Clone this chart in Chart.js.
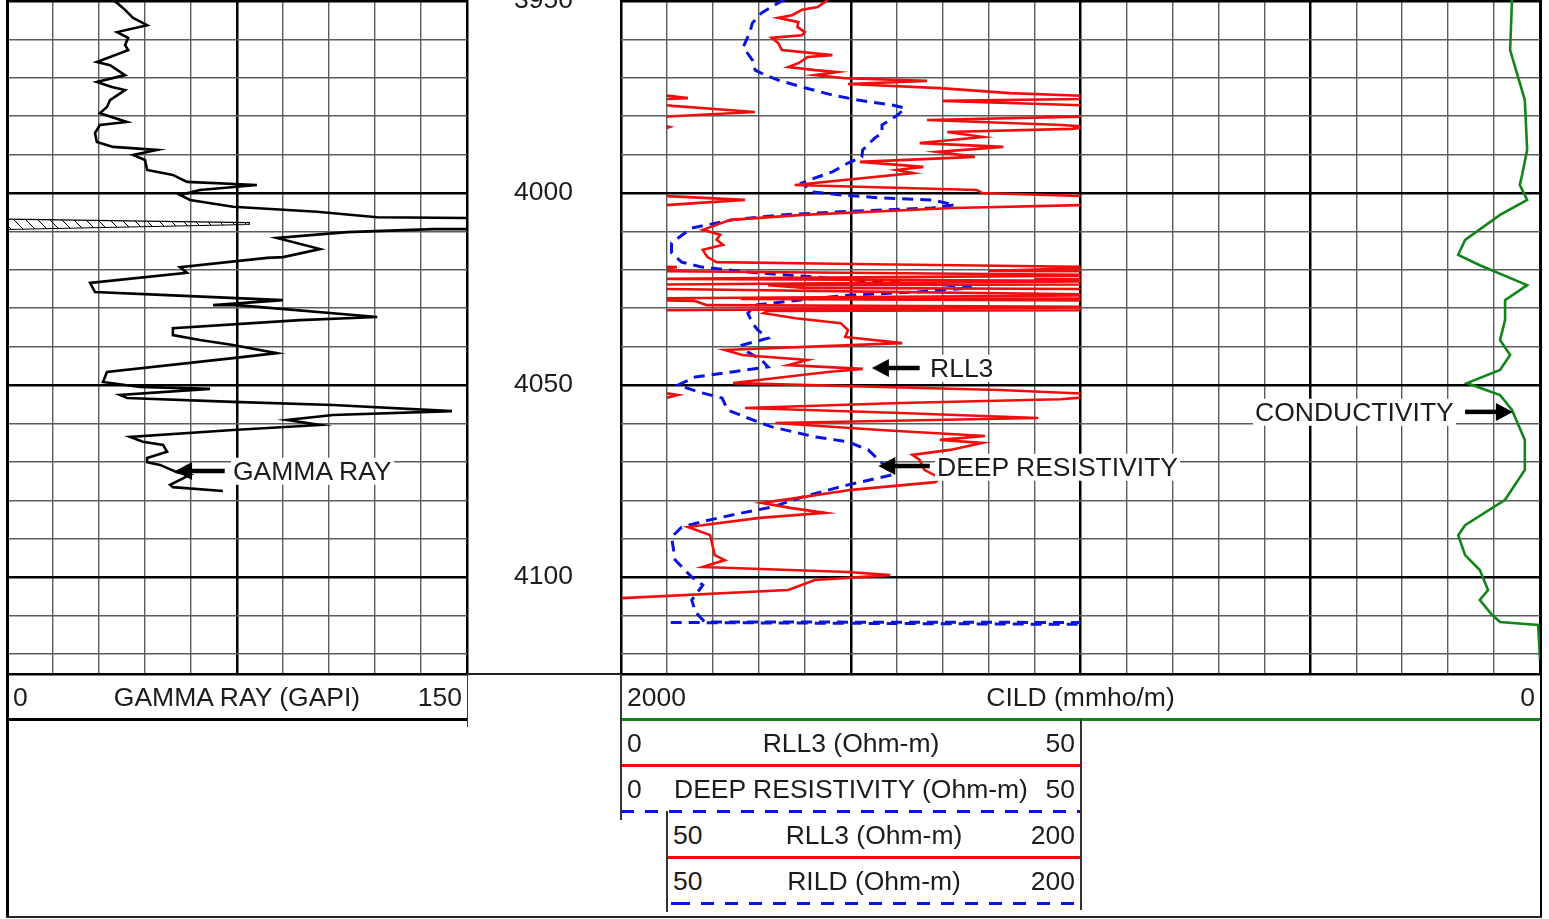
<!DOCTYPE html>
<html>
<head>
<meta charset="utf-8">
<title>Well log</title>
<script src="https://cdn.jsdelivr.net/npm/chart.js@4.4.1/dist/chart.umd.min.js"></script>
<style>
  html, body { margin: 0; padding: 0; background: #fff; overflow: hidden; }
  body { width: 1549px; height: 919px; position: relative; font-family: "Liberation Sans", Arial, sans-serif; color: #1c1c1c; }
  canvas { position: absolute; }
  .t { position: absolute; font-size: 26.5px; line-height: 1; white-space: nowrap; transform: translateY(-50%); }
  .c { text-align: center; }
  .r { text-align: right; }
  .lbl { background: #fff; padding: 0 2px; }
  .ln { position: absolute; }
  .dash { background: repeating-linear-gradient(90deg, #0a14e0 0 13px, transparent 13px 24px); }
</style>
</head>
<body>
<canvas id="gammaChart" width="470" height="714" style="left:2px;top:-20px"></canvas>
<canvas id="resChart" width="1078" height="714" style="left:467px;top:-20px"></canvas>

<!-- curve annotations -->
<div class="t lbl" style="left:231px;top:471px">GAMMA RAY</div>
<div class="t lbl" style="left:928px;top:368px">RLL3</div>
<div class="t lbl" style="left:935px;top:467px">DEEP RESISTIVITY</div>
<div class="t lbl" style="left:1253px;top:412px">CONDUCTIVITY</div>

<!-- header lines -->
<div class="ln" style="left:467px;top:673px;width:154px;height:2px;background:#222"></div>
<div class="ln" style="left:7px;top:717.5px;width:460px;height:3px;background:#000"></div>
<div class="ln" style="left:621px;top:717.5px;width:919px;height:3px;background:#12851a"></div>
<div class="ln" style="left:621px;top:763.5px;width:460px;height:3px;background:#f20d0d"></div>
<div class="ln dash" style="left:621px;top:809.5px;width:460px;height:3px"></div>
<div class="ln" style="left:667px;top:855.5px;width:414px;height:3px;background:#f20d0d"></div>
<div class="ln dash" style="left:667px;top:901.5px;width:414px;height:3px;background-position:10px 0"></div>
<div class="ln" style="left:466.5px;top:674px;width:1.5px;height:53px;background:#333"></div>
<div class="ln" style="left:620px;top:674px;width:1.5px;height:146px;background:#333"></div>
<div class="ln" style="left:666px;top:811px;width:1.5px;height:101px;background:#333"></div>
<div class="ln" style="left:1080px;top:719px;width:1.5px;height:191px;background:#333"></div>

<!-- frame -->
<div class="ln" style="left:5.5px;top:0;width:3px;height:918px;background:#000"></div>
<div class="ln" style="left:1539.5px;top:0;width:2.5px;height:918px;background:#000"></div>
<div class="ln" style="left:5.5px;top:916px;width:1536px;height:2px;background:#222"></div>

<!-- header texts -->
<div class="t" style="left:13px;top:697px">0</div>
<div class="t c" style="left:7px;width:460px;top:697px">GAMMA RAY (GAPI)</div>
<div class="t r" style="left:380px;width:82px;top:697px">150</div>

<div class="t" style="left:627px;top:697px">2000</div>
<div class="t c" style="left:621px;width:919px;top:697px">CILD (mmho/m)</div>
<div class="t r" style="left:1480px;width:55px;top:697px">0</div>

<div class="t" style="left:627px;top:743px">0</div>
<div class="t c" style="left:621px;width:460px;top:743px">RLL3 (Ohm-m)</div>
<div class="t r" style="left:1000px;width:75px;top:743px">50</div>

<div class="t" style="left:627px;top:789px">0</div>
<div class="t c" style="left:621px;width:460px;top:789px">DEEP RESISTIVITY (Ohm-m)</div>
<div class="t r" style="left:1000px;width:75px;top:789px">50</div>

<div class="t" style="left:673px;top:835px">50</div>
<div class="t c" style="left:667px;width:414px;top:835px">RLL3 (Ohm-m)</div>
<div class="t r" style="left:1000px;width:75px;top:835px">200</div>

<div class="t" style="left:673px;top:881px">50</div>
<div class="t c" style="left:667px;width:414px;top:881px">RILD (Ohm-m)</div>
<div class="t r" style="left:1000px;width:75px;top:881px">200</div>

<script>
// depth window shown (ft)
const DEPTH_TOP = 3949.74;
const DEPTH_BOTTOM = 4125.26;

// gamma ray (GAPI)
const gammaDepth = [3949.7, 3950.5, 3952.3, 3954.4, 3956.3, 3958.1, 3959.6, 3961.5, 3962.8, 3965.9,
  3966.7, 3969.3, 3971.1, 3972.4, 3973.2, 3975.8, 3977.6, 3979.2, 3981.5, 3982.3,
  3984.4, 3986.7, 3988.0, 3988.8, 3990.1, 3991.4, 3994.0, 3995.3, 3997.1, 3997.9,
  3999.2, 4000.5, 4001.8, 4003.6, 4004.9, 4006.3, 4006.5, 4007.9, 4009.4, 4009.4,
  4010.2, 4011.7, 4014.6, 4016.7, 4016.9, 4019.3, 4020.8, 4023.4, 4025.8, 4026.6,
  4027.9, 4029.2, 4029.2, 4032.3, 4033.1, 4035.2, 4037.0, 4038.3, 4039.6, 4041.7,
  4043.0, 4046.6, 4049.2, 4050.5, 4051.0, 4052.6, 4053.4, 4054.4, 4055.2, 4056.8,
  4057.8, 4059.1, 4060.4, 4061.7, 4063.5, 4064.8, 4065.6, 4067.4, 4069.0, 4070.1,
  4070.8, 4072.7, 4073.4, 4076.0, 4076.6, 4077.6];
const gammaValue = [34.2, 35.9, 38.5, 41.1, 45.7, 35.9, 39.5, 38.5, 39.5, 29.3,
  33.6, 38.5, 29.3, 34.2, 38.5, 33.6, 32.6, 30.3, 39.1, 30.3,
  28.7, 29.3, 34.6, 48.9, 41.1, 45.0, 45.7, 54.1, 58.7, 81.5,
  62.9, 56.4, 59.7, 73.7, 101.1, 120.7, 150, 170, 150, 138.9,
  110.9, 88.0, 102.1, 90.0, 84.8, 56.4, 58.7, 27.1, 28.7, 52.2,
  90.0, 67.2, 75.0, 120.7, 95.5, 54.1, 54.1, 62.9, 73.7, 88.0,
  73.7, 32.6, 31.3, 43.4, 66.2, 36.8, 39.1, 73.7, 106.3, 145.1,
  106.3, 91.3, 102.1, 73.7, 40.1, 44.3, 50.9, 52.2, 45.7, 45.7,
  49.9, 55.4, 59.7, 53.2, 54.1, 70.4];

// hatched wedge in the gamma track
const wedgeDepth = [4006.8, 4007.7, 4008.2, 4009.5];
const wedgeValue = [0, 79, 79, 0];

// RLL3 (Ohm-m), values above 50 show on the 50-200 backup
const rll3Depth = [3949.7, 3951.6, 3952.3, 3953.7, 3954.4, 3955.5, 3956.8, 3958.1, 3958.9, 3959.6,
  3960.9, 3962.8, 3964.1, 3964.6, 3966.2, 3967.2, 3968.0, 3968.5, 3969.3, 3970.1,
  3970.8, 3971.6, 3972.7, 3974.0, 3975.3, 3976.0, 3977.3, 3978.9, 3980.0, 3981.0,
  3982.3, 3982.8, 3983.3, 3984.1, 3985.4, 3987.0, 3988.0, 3989.3, 3990.6, 3991.9,
  3993.2, 3994.0, 3994.8, 3997.9, 3999.2, 4000.0, 4000.8, 4001.8, 4003.1, 4003.9,
  4005.7, 4007.0, 4008.3, 4009.6, 4010.9, 4012.2, 4013.5, 4014.8, 4016.7, 4018.0,
  4018.5, 4019.3, 4020.3, 4021.4, 4022.4, 4022.9, 4024.0, 4024.7, 4026.6, 4027.6,
  4028.1, 4029.2, 4029.7, 4030.7, 4031.3, 4032.6, 4033.9, 4035.7, 4037.5, 4039.1,
  4040.9, 4042.2, 4043.5, 4044.8, 4045.8, 4046.6, 4049.5, 4051.3, 4052.6, 4053.7,
  4054.7, 4056.0, 4057.3, 4058.6, 4059.9, 4061.7, 4063.3, 4064.3, 4065.1, 4066.9,
  4068.2, 4069.5, 4072.1, 4074.2, 4075.3, 4077.3, 4079.4, 4080.7, 4082.0, 4083.3,
  4084.6, 4087.0, 4089.1, 4091.2, 4094.3, 4095.6, 4097.4, 4098.7, 4099.5, 4100.8,
  4103.4, 4105.5];
const rll3Value = [22.5, 21.4, 19.7, 18.6, 17.1, 19.3, 19.2, 20.0, 19.7, 16.4,
  17.1, 17.5, 23.0, 20.3, 19.3, 18.2, 21.1, 23.5, 21.1, 24.4,
  33.3, 24.7, 34.7, 42.3, 57.6, 35.0, 52, 81.9, 52, 33.3,
  48, 51, 49, 35.5, 39.4, 32.5, 41.6, 34.4, 38.5, 26.0,
  32.9, 30.0, 31.8, 18.9, 38.7, 39.3, 50, 78.3, 51, 36.1,
  19.8, 11.9, 10.4, 8.9, 10.8, 10.4, 11.1, 8.9, 9.4, 10.4,
  25.2, 53.6, 40, 220, 45, 220, 16, 20, 220, 13,
  60, 64.5, 220, 16, 15.5, 19, 23.9, 24.7, 24.4, 30.6,
  11.3, 13.2, 20.3, 18.2, 26.3, 22.5, 12.2, 41.2, 54, 47.8,
  30.4, 13.5, 30.4, 45.4, 16.8, 28.2, 39.6, 34.7, 39.3, 35.8,
  31.7, 32.5, 33, 34.7, 34.2, 25.1, 19.2, 15.3, 18.4, 22.2,
  15.1, 7.3, 9.7, 9.9, 10.2, 11.3, 8.9, 24.7, 29.3, 21.1,
  18.2, 0.1];

// deep resistivity (Ohm-m), backup is RILD 50-200
const deepDepth = [3949.7, 3950.5, 3953.1, 3955.7, 3958.3, 3962.0, 3965.4, 3968.0, 3969.3, 3970.6,
  3972.4, 3974.5, 3975.8, 3977.1, 3977.9, 3979.7, 3982.3, 3984.4, 3985.7, 3988.8,
  3990.6, 3992.2, 3994.5, 3996.1, 3997.4, 3999.7, 4000.5, 4001.3, 4001.8, 4003.1,
  4003.9, 4004.4, 4005.0, 4005.7, 4007.0, 4009.1, 4013.0, 4015.6, 4018.0, 4019.3,
  4020.6, 4021.9, 4023.2, 4024.0, 4024.7, 4025.8, 4026.6, 4027.9, 4029.2, 4031.3,
  4033.9, 4035.7, 4037.8, 4039.6, 4041.4, 4043.5, 4045.3, 4046.6, 4047.9, 4050.0,
  4051.8, 4053.4, 4056.5, 4058.6, 4060.9, 4063.5, 4064.8, 4066.9, 4070.3, 4073.4,
  4076.0, 4079.2, 4081.8, 4083.3, 4085.2, 4087.0, 4089.6, 4095.6, 4100.0, 4102.1,
  4106.0, 4109.1, 4111.7, 4112.5];
const deepValue = [17.8, 17.1, 15.3, 14.3, 14.0, 13.3, 14.3, 14.6, 15.7, 17.1,
  19.7, 23.0, 25.8, 29.5, 30.9, 30.1, 28.4, 28.4, 27.6, 26.3,
  26.2, 24.7, 23.0, 21.1, 19.7, 20.8, 24.0, 28.4, 33.8, 36.3,
  33.8, 28.4, 23.0, 17.5, 12.1, 7.7, 5.5, 5.5, 6.6, 8.8,
  13.8, 21.1, 28.4, 35.6, 38.2, 32.0, 24.7, 19.3, 14.6, 13.8,
  14.3, 14.9, 16.0, 13.2, 13.8, 15.3, 16.0, 12.1, 8.1, 6.2,
  8.4, 11.0, 11.6, 13.8, 16.4, 21.1, 24.7, 26.9, 28.4, 29.5,
  24.7, 19.7, 16.4, 13.2, 9.5, 6.6, 5.5, 5.9, 7.7, 8.9,
  7.7, 8.1, 9.1, 250];

// CILD conductivity (mmho/m)
const cildDepth = [3949.7, 3962.8, 3975.8, 3988.8, 3995.3, 3997.9, 4001.8, 4005.7, 4012.2, 4016.1,
  4018.8, 4024.0, 4027.9, 4033.1, 4038.3, 4042.2, 4046.1, 4049.5, 4052.6, 4056.5,
  4064.3, 4072.1, 4079.9, 4086.5, 4089.1, 4094.3, 4098.2, 4103.4, 4106.0, 4109.9,
  4111.7, 4112.5, 4121.6];
const cildValue = [61, 65, 33, 28, 39, 44, 28, 87, 163, 178,
  131, 28, 76, 76, 87, 65, 87, 159, 87, 61,
  33, 33, 76, 163, 178, 163, 131, 113, 131, 104,
  87, 4, 0];

const RED = '#f20d0d';
const BLUE = '#0a14e0';
const GREEN = '#12851a';
const FONT = '"Liberation Sans", Arial, sans-serif';

function pts(depths, values) {
  return depths.map((d, i) => ({ x: values[i], y: d }));
}

function gridStyle(every) {
  const major = (c) => c.tick && Math.abs(c.tick.value % every) < 1e-6;
  return {
    drawTicks: false,
    color: (c) => (major(c) ? '#000' : '#5c5c5c'),
    lineWidth: (c) => (major(c) ? 2.5 : 1.4),
  };
}

// diagonal hatch for the wedge
const hatch = (() => {
  const c = document.createElement('canvas');
  c.width = 12;
  c.height = 12;
  const g = c.getContext('2d');
  g.strokeStyle = '#000';
  g.lineWidth = 1;
  g.beginPath();
  g.moveTo(0, 0); g.lineTo(12, 12);
  g.moveTo(-6, 6); g.lineTo(6, 18);
  g.moveTo(6, -6); g.lineTo(18, 6);
  g.stroke();
  return g.createPattern(c, 'repeat');
})();

// black arrows pointing at the curves
const arrowPlugin = {
  id: 'arrows',
  afterDatasetsDraw(chart, args, opts) {
    const ctx = chart.ctx;
    ctx.save();
    ctx.fillStyle = '#000';
    ctx.strokeStyle = '#000';
    (opts.items || []).forEach((a) => {
      const sx = chart.scales[a.axis];
      const y = chart.scales.y.getPixelForValue(a.depth);
      const xt = sx.getPixelForValue(a.tail);
      const xh = sx.getPixelForValue(a.tip);
      const dir = Math.sign(xh - xt);
      const hl = 17, hw = 9;
      ctx.lineWidth = 4.5;
      ctx.beginPath();
      ctx.moveTo(xt, y);
      ctx.lineTo(xh - dir * (hl - 1), y);
      ctx.stroke();
      ctx.beginPath();
      ctx.moveTo(xh, y);
      ctx.lineTo(xh - dir * hl, y - hw);
      ctx.lineTo(xh - dir * hl, y + hw);
      ctx.closePath();
      ctx.fill();
    });
    ctx.restore();
  },
};

const depthAxis = (showLabels) => ({
  type: 'linear',
  position: 'left',
  reverse: true,
  min: DEPTH_TOP,
  max: DEPTH_BOTTOM,
  ticks: {
    display: showLabels,
    stepSize: 10,
    includeBounds: false,
    autoSkip: false,
    padding: 48,
    color: '#1c1c1c',
    font: { family: FONT, size: 26.5 },
    callback: (v) => (v % 50 === 0 ? String(v) : ''),
  },
  grid: gridStyle(50),
  border: { display: false },
  afterFit: (s) => {
    s.width = showLabels ? 154 : 0;
    s.paddingTop = 0;
    s.paddingBottom = 0;
  },
});

const common = {
  responsive: false,
  animation: false,
  events: [],
};

new Chart(document.getElementById('gammaChart'), {
  type: 'scatter',
  data: {
    datasets: [
      {
        label: 'GAMMA RAY',
        data: pts(gammaDepth, gammaValue),
        showLine: true,
        borderColor: '#000',
        borderWidth: 2.6,
        pointRadius: 0,
      },
      {
        label: 'wedge',
        data: pts(wedgeDepth, wedgeValue),
        showLine: true,
        fill: 'shape',
        backgroundColor: hatch,
        borderColor: '#000',
        borderWidth: 1.2,
        pointRadius: 0,
      },
    ],
  },
  options: {
    ...common,
    layout: { padding: { left: 5, right: 5, top: 20, bottom: 20 } },
    plugins: {
      legend: { display: false },
      tooltip: { enabled: false },
      arrows: { items: [{ axis: 'x', depth: 4072.4, tail: 71, tip: 54.8 }] },
    },
    scales: {
      x: {
        type: 'linear',
        min: 0,
        max: 150,
        ticks: { display: false, stepSize: 15 },
        grid: gridStyle(75),
        border: { display: true, color: '#000', width: 2.5 },
        afterFit: (s) => { s.height = 0; },
      },
      y: depthAxis(false),
    },
  },
  plugins: [arrowPlugin],
});

const lineSet = { showLine: true, pointRadius: 0, fill: false, borderWidth: 2.6 };
const trackClip = { left: 0, top: 0, right: -459.5, bottom: 0 };
const backupClip = { left: -46, top: 0, right: -459.5, bottom: 0 };

new Chart(document.getElementById('resChart'), {
  type: 'scatter',
  data: {
    datasets: [
      { ...lineSet, label: 'RLL3', xAxisID: 'xr', data: pts(rll3Depth, rll3Value), borderColor: RED, clip: trackClip },
      { ...lineSet, label: 'RLL3 50-200', xAxisID: 'xb', data: pts(rll3Depth, rll3Value), borderColor: RED, clip: backupClip },
      { ...lineSet, label: 'DEEP RESISTIVITY', xAxisID: 'xr', data: pts(deepDepth, deepValue), borderColor: BLUE, borderWidth: 3, borderDash: [11, 7], clip: trackClip },
      { ...lineSet, label: 'RILD', xAxisID: 'xb', data: pts(deepDepth, deepValue), borderColor: BLUE, borderWidth: 3, borderDash: [11, 7], clip: backupClip },
      { ...lineSet, label: 'CILD', xAxisID: 'xc', data: pts(cildDepth, cildValue), borderColor: GREEN },
    ],
  },
  options: {
    ...common,
    layout: { padding: { left: 0, right: 5, top: 20, bottom: 20 } },
    plugins: {
      legend: { display: false },
      tooltip: { enabled: false },
      arrows: {
        items: [
          { axis: 'xr', depth: 4045.6, tail: 32.5, tip: 27.3 },
          { axis: 'xr', depth: 4071.1, tail: 33.6, tip: 28.0 },
          { axis: 'xc', depth: 4057.0, tail: 163, tip: 59 },
        ],
      },
    },
    scales: {
      xc: {
        type: 'linear',
        position: 'bottom',
        reverse: true,
        min: 0,
        max: 2000,
        ticks: { display: false, stepSize: 100 },
        grid: gridStyle(500),
        border: { display: true, color: '#000', width: 2.5 },
        afterFit: (s) => { s.height = 0; },
      },
      xr: { type: 'linear', display: false, min: 0, max: 100 },
      xb: { type: 'linear', display: false, min: 33.333, max: 366.667 },
      y: depthAxis(true),
    },
  },
  plugins: [arrowPlugin],
});
</script>
</body>
</html>
